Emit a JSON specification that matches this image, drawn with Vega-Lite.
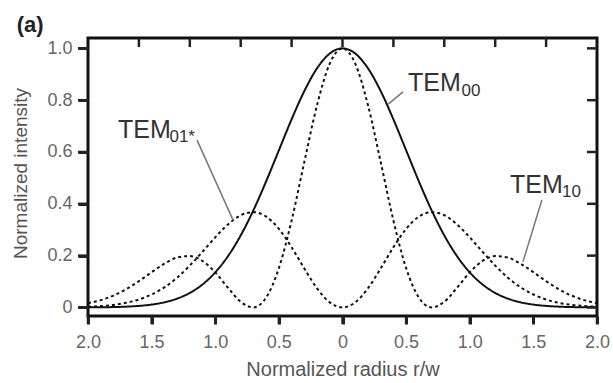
{
  "$schema": "https://vega.github.io/schema/vega-lite/v6.json",
  "width": 509,
  "height": 278,
  "autosize": {"type": "none"},
  "padding": {"left": 88, "top": 38, "right": 16, "bottom": 67},
  "background": "white",
  "config": {
    "view": {"stroke": "#111", "strokeWidth": 3},
    "font": "Liberation Sans",
    "axis": {"ticks": true, "tickWidth": 3, "tickColor": "#222", "tickOpacity": 1, "domain": false, "grid": false}
  },
  "datasets": {
    "curves": [
      {"r": -2.0, "TEM00": 0.0003, "TEM01": 0.0027, "TEM10": 0.0164},
      {"r": -1.9, "TEM00": 0.0007, "TEM01": 0.0053, "TEM10": 0.0282},
      {"r": -1.8, "TEM00": 0.0015, "TEM01": 0.0099, "TEM10": 0.0459},
      {"r": -1.7, "TEM00": 0.0031, "TEM01": 0.0179, "TEM10": 0.0706},
      {"r": -1.6, "TEM00": 0.006, "TEM01": 0.0306, "TEM10": 0.1015},
      {"r": -1.5, "TEM00": 0.0111, "TEM01": 0.05, "TEM10": 0.136},
      {"r": -1.4, "TEM00": 0.0198, "TEM01": 0.0776, "TEM10": 0.1688},
      {"r": -1.3, "TEM00": 0.034, "TEM01": 0.1149, "TEM10": 0.1926},
      {"r": -1.2, "TEM00": 0.0561, "TEM01": 0.1616, "TEM10": 0.1983},
      {"r": -1.1, "TEM00": 0.0889, "TEM01": 0.2151, "TEM10": 0.1793},
      {"r": -1.0, "TEM00": 0.1353, "TEM01": 0.2707, "TEM10": 0.1353},
      {"r": -0.9, "TEM00": 0.1979, "TEM01": 0.3206, "TEM10": 0.0761},
      {"r": -0.8, "TEM00": 0.278, "TEM01": 0.3558, "TEM10": 0.0218},
      {"r": -0.7, "TEM00": 0.3753, "TEM01": 0.3678, "TEM10": 0.0002},
      {"r": -0.6, "TEM00": 0.4868, "TEM01": 0.3505, "TEM10": 0.0382},
      {"r": -0.5, "TEM00": 0.6065, "TEM01": 0.3033, "TEM10": 0.1516},
      {"r": -0.4, "TEM00": 0.7261, "TEM01": 0.2324, "TEM10": 0.3357},
      {"r": -0.3, "TEM00": 0.8353, "TEM01": 0.1504, "TEM10": 0.5617},
      {"r": -0.2, "TEM00": 0.9231, "TEM01": 0.0738, "TEM10": 0.7813},
      {"r": -0.1, "TEM00": 0.9802, "TEM01": 0.0196, "TEM10": 0.9414},
      {"r": 0.0, "TEM00": 1.0, "TEM01": 0.0, "TEM10": 1.0},
      {"r": 0.1, "TEM00": 0.9802, "TEM01": 0.0196, "TEM10": 0.9414},
      {"r": 0.2, "TEM00": 0.9231, "TEM01": 0.0738, "TEM10": 0.7813},
      {"r": 0.3, "TEM00": 0.8353, "TEM01": 0.1504, "TEM10": 0.5617},
      {"r": 0.4, "TEM00": 0.7261, "TEM01": 0.2324, "TEM10": 0.3357},
      {"r": 0.5, "TEM00": 0.6065, "TEM01": 0.3033, "TEM10": 0.1516},
      {"r": 0.6, "TEM00": 0.4868, "TEM01": 0.3505, "TEM10": 0.0382},
      {"r": 0.7, "TEM00": 0.3753, "TEM01": 0.3678, "TEM10": 0.0002},
      {"r": 0.8, "TEM00": 0.278, "TEM01": 0.3558, "TEM10": 0.0218},
      {"r": 0.9, "TEM00": 0.1979, "TEM01": 0.3206, "TEM10": 0.0761},
      {"r": 1.0, "TEM00": 0.1353, "TEM01": 0.2707, "TEM10": 0.1353},
      {"r": 1.1, "TEM00": 0.0889, "TEM01": 0.2151, "TEM10": 0.1793},
      {"r": 1.2, "TEM00": 0.0561, "TEM01": 0.1616, "TEM10": 0.1983},
      {"r": 1.3, "TEM00": 0.034, "TEM01": 0.1149, "TEM10": 0.1926},
      {"r": 1.4, "TEM00": 0.0198, "TEM01": 0.0776, "TEM10": 0.1688},
      {"r": 1.5, "TEM00": 0.0111, "TEM01": 0.05, "TEM10": 0.136},
      {"r": 1.6, "TEM00": 0.006, "TEM01": 0.0306, "TEM10": 0.1015},
      {"r": 1.7, "TEM00": 0.0031, "TEM01": 0.0179, "TEM10": 0.0706},
      {"r": 1.8, "TEM00": 0.0015, "TEM01": 0.0099, "TEM10": 0.0459},
      {"r": 1.9, "TEM00": 0.0007, "TEM01": 0.0053, "TEM10": 0.0282},
      {"r": 2.0, "TEM00": 0.0003, "TEM01": 0.0027, "TEM10": 0.0164}
    ],
    "labels": [
      {"part": "main", "r": 0.515, "v": 0.836, "t": "TEM"},
      {"part": "sub", "r": 0.935, "v": 0.817, "t": "00"},
      {"part": "main", "r": 1.316, "v": 0.442, "t": "TEM"},
      {"part": "sub", "r": 1.725, "v": 0.427, "t": "10"},
      {"part": "main", "r": -1.764, "v": 0.654, "t": "TEM"},
      {"part": "sub", "r": -1.36, "v": 0.638, "t": "01*"},
      {"part": "panel", "r": -2.56, "v": 1.065, "t": "(a)"}
    ],
    "leaders": [
      {"r": 0.475, "v": 0.832, "r2": 0.36, "v2": 0.785},
      {"r": 1.567, "v": 0.415, "r2": 1.418, "v2": 0.176},
      {"r": -1.143, "v": 0.646, "r2": -0.86, "v2": 0.337}
    ],
    "ticks": [
      {"a": -2, "a2": -2, "b": -0.033, "b2": -0.064},
      {"a": -1.5, "a2": -1.5, "b": -0.033, "b2": -0.064},
      {"a": -1, "a2": -1, "b": -0.033, "b2": -0.064},
      {"a": -0.5, "a2": -0.5, "b": -0.033, "b2": -0.064},
      {"a": 0, "a2": 0, "b": -0.033, "b2": -0.064},
      {"a": 0.5, "a2": 0.5, "b": -0.033, "b2": -0.064},
      {"a": 1, "a2": 1, "b": -0.033, "b2": -0.064},
      {"a": 1.5, "a2": 1.5, "b": -0.033, "b2": -0.064},
      {"a": 2, "a2": 2, "b": -0.033, "b2": -0.064},
      {"a": -2, "a2": -2.079, "b": 0, "b2": 0},
      {"a": -2, "a2": -2.079, "b": 0.2, "b2": 0.2},
      {"a": -2, "a2": -2.079, "b": 0.4, "b2": 0.4},
      {"a": -2, "a2": -2.079, "b": 0.6, "b2": 0.6},
      {"a": -2, "a2": -2.079, "b": 0.8, "b2": 0.8},
      {"a": -2, "a2": -2.079, "b": 1, "b2": 1},
      {"a": -1.6, "a2": -1.6, "b": 1.04, "b2": 1.005},
      {"a": -1.2, "a2": -1.2, "b": 1.04, "b2": 1.005},
      {"a": -0.8, "a2": -0.8, "b": 1.04, "b2": 1.005},
      {"a": -0.4, "a2": -0.4, "b": 1.04, "b2": 1.005},
      {"a": 0, "a2": 0, "b": 1.04, "b2": 1.005},
      {"a": 0.4, "a2": 0.4, "b": 1.04, "b2": 1.005},
      {"a": 0.8, "a2": 0.8, "b": 1.04, "b2": 1.005},
      {"a": 1.2, "a2": 1.2, "b": 1.04, "b2": 1.005},
      {"a": 1.6, "a2": 1.6, "b": 1.04, "b2": 1.005},
      {"a": 2, "a2": 1.921, "b": 0, "b2": 0},
      {"a": 2, "a2": 1.921, "b": 0.2, "b2": 0.2},
      {"a": 2, "a2": 1.921, "b": 0.4, "b2": 0.4},
      {"a": 2, "a2": 1.921, "b": 0.6, "b2": 0.6},
      {"a": 2, "a2": 1.921, "b": 0.8, "b2": 0.8},
      {"a": 2, "a2": 1.921, "b": 1, "b2": 1}
    ]
  },
  "resolve": {"axis": {"x": "independent", "y": "independent"}},
  "layer": [
    {
      "data": {"name": "curves"},
      "transform": [{"fold": ["TEM00", "TEM01", "TEM10"], "as": ["mode", "I"]}],
      "mark": {"type": "line", "interpolate": "monotone", "strokeWidth": 2, "color": "#111"},
      "encoding": {
        "x": {
          "field": "r", "type": "quantitative",
          "scale": {"domain": [-2, 2], "nice": false, "zero": false},
          "axis": {
            "values": [-2, -1.5, -1, -0.5, 0, 0.5, 1, 1.5, 2],
            "labelExpr": "datum.value == 0 ? '0' : format(abs(datum.value), '.1f')",
            "tickSize": 8,
            "labelFontSize": 18, "labelColor": "#666", "labelPadding": 9,
            "labelFlush": false, "labelOverlap": false,
            "title": "Normalized radius r/w", "titleFontSize": 20, "titleFontWeight": "normal",
            "titleColor": "#555", "titlePadding": 8
          }
        },
        "y": {
          "field": "I", "type": "quantitative",
          "scale": {"domain": [-0.033, 1.04], "nice": false, "zero": false},
          "axis": {
            "values": [0, 0.2, 0.4, 0.6, 0.8, 1],
            "labelExpr": "datum.value == 0 ? '0' : format(datum.value, '.1f')",
            "tickSize": 10,
            "labelFontSize": 18, "labelColor": "#666", "labelPadding": 6,
            "title": "Normalized intensity", "titleFontSize": 19, "titleFontWeight": "normal",
            "titleColor": "#555", "titleX": -68, "titleY": 135, "titleAngle": -90,
            "titleAlign": "center", "titleBaseline": "middle"
          }
        },
        "detail": {"field": "mode"},
        "strokeDash": {
          "field": "mode", "type": "nominal",
          "scale": {"domain": ["TEM00", "TEM01", "TEM10"], "range": [[1, 0], [3, 3], [3, 3]]},
          "legend": null
        }
      }
    },
    {
      "data": {"name": "ticks"},
      "mark": {"type": "rule", "color": "#222", "strokeWidth": 2.5},
      "encoding": {
        "x": {"field": "a", "type": "quantitative", "axis": null},
        "x2": {"field": "a2"},
        "y": {"field": "b", "type": "quantitative", "axis": null},
        "y2": {"field": "b2"}
      }
    },
    {
      "data": {"name": "leaders"},
      "mark": {"type": "rule", "color": "#777", "strokeWidth": 1.5},
      "encoding": {
        "x": {"field": "r", "type": "quantitative", "axis": null},
        "y": {"field": "v", "type": "quantitative", "axis": null},
        "x2": {"field": "r2"},
        "y2": {"field": "v2"}
      }
    },
    {
      "data": {"name": "labels"},
      "transform": [{"filter": "datum.part == 'main'"}],
      "mark": {"type": "text", "align": "left", "baseline": "alphabetic", "fontSize": 25, "color": "#333"},
      "encoding": {
        "x": {"field": "r", "type": "quantitative", "axis": null},
        "y": {"field": "v", "type": "quantitative", "axis": null},
        "text": {"field": "t"}
      }
    },
    {
      "data": {"name": "labels"},
      "transform": [{"filter": "datum.part == 'sub'"}],
      "mark": {"type": "text", "align": "left", "baseline": "alphabetic", "fontSize": 17, "color": "#333"},
      "encoding": {
        "x": {"field": "r", "type": "quantitative", "axis": null},
        "y": {"field": "v", "type": "quantitative", "axis": null},
        "text": {"field": "t"}
      }
    },
    {
      "data": {"name": "labels"},
      "transform": [{"filter": "datum.part == 'panel'"}],
      "mark": {"type": "text", "align": "left", "baseline": "alphabetic", "fontSize": 22, "fontWeight": "bold", "color": "#222"},
      "encoding": {
        "x": {"field": "r", "type": "quantitative", "axis": null},
        "y": {"field": "v", "type": "quantitative", "axis": null},
        "text": {"field": "t"}
      }
    }
  ]
}
